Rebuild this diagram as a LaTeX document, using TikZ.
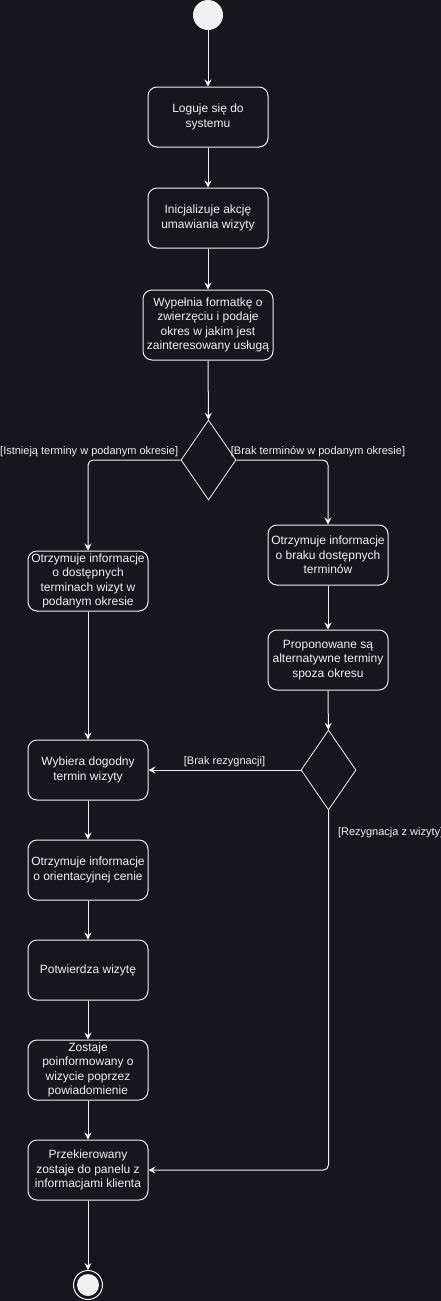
\documentclass[tikz,border=0pt]{standalone}
\usepackage{fontspec}
\setmainfont{Liberation Sans}
\usetikzlibrary{arrows.meta,shapes.geometric}
\definecolor{bgdark}{HTML}{18161D}
\definecolor{ink}{HTML}{F0F0F0}

\begin{document}
\begin{tikzpicture}[x=1pt,y=-1pt]
    \tikzset{action/.style = {shape=rectangle, draw=ink, line width=1pt, rounded corners=9pt, minimum width=120pt, minimum height=60pt, inner sep=0pt, align=center, text=ink, font=\fontsize{12}{14.4}\selectfont}}
    \tikzset{choice/.style = {shape=diamond, draw=ink!85, line width=0.8pt, minimum width=55pt, minimum height=80pt, inner sep=0pt, aspect=0.69}}
    \tikzset{flow/.style = {draw=ink, line width=1pt, rounded corners=5pt, -{Stealth[length=7pt,width=7pt,inset=2.5pt]}}}
    \tikzset{guard/.style = {text=ink, inner sep=0pt, font=\fontsize{11}{13}\selectfont}}

    \fill[bgdark] (0,0) rectangle (441,1301);
    \useasboundingbox (0,0) rectangle (441,1301);

    % vertices
    \node[circle, fill=ink, minimum size=30pt, inner sep=0pt] (start) at (208,15) {};
    \node[action] (login) at (208,117) {Loguje się do\\systemu};
    \node[action] (init) at (208,218) {Inicjalizuje akcję\\umawiania wizyty};
    \node[action, minimum width=130pt, minimum height=70pt] (form) at (208,325) {Wypełnia formatkę o\\zwierzęciu i podaje\\okres w jakim jest\\zainteresowany usługą};
    \node[choice] (d1) at (208.5,460) {};
    \node[action] (found) at (88,581) {Otrzymuje informacje\\o dostępnych\\terminach wizyt w\\podanym okresie};
    \node[action] (none) at (328,555) {Otrzymuje informacje\\o braku dostępnych\\terminów};
    \node[action] (alt) at (328,660) {Proponowane są\\alternatywne terminy\\spoza okresu};
    \node[choice] (d2) at (328.5,770) {};
    \node[action] (pick) at (88,770) {Wybiera dogodny\\termin wizyty};
    \node[action] (price) at (88,870) {Otrzymuje informacje\\o orientacyjnej cenie};
    \node[action] (confirm) at (88,970) {Potwierdza wizytę};
    \node[action] (notify) at (88,1070) {Zostaje\\poinformowany o\\wizycie poprzez\\powiadomienie};
    \node[action] (panel) at (88,1170) {Przekierowany\\zostaje do panelu z\\informacjami klienta};
    \node[circle, draw=ink, line width=1pt, minimum size=29pt, inner sep=0pt] (stop) at (88,1285) {};
    \node[circle, fill=ink, minimum size=22pt, inner sep=0pt] (stopdot) at (stop) {};

    % edges
    \draw[flow] (start) -- (login);
    \draw[flow] (login) -- (init);
    \draw[flow] (init) -- (form);
    \draw[flow] (form) -- (d1);
    \draw[flow] (d1.west) -| node[guard, pos=0, anchor=east, xshift=-2pt, yshift=8pt]{[Istnieją terminy w podanym okresie]} (found.north);
    \draw[flow] (d1.east) -| node[guard, pos=0, anchor=west, xshift=-6pt, yshift=8pt]{[Brak terminów w podanym okresie]} (none.north);
    \draw[flow] (none) -- (alt);
    \draw[flow] (alt) -- (d2);
    \draw[flow] (d2.west) -- node[guard, midway, yshift=8pt]{[Brak rezygnacji]} (pick.east);
    \draw[flow] (found) -- (pick);
    \draw[flow] (pick) -- (price);
    \draw[flow] (price) -- (confirm);
    \draw[flow] (confirm) -- (notify);
    \draw[flow] (notify) -- (panel);
    \draw[flow] (d2.south) |- node[guard, pos=0, anchor=west, xshift=9pt, yshift=-22pt]{[Rezygnacja z wizyty]} (panel.east);
    \draw[flow] (panel) -- (stop);
\end{tikzpicture}
\end{document}
